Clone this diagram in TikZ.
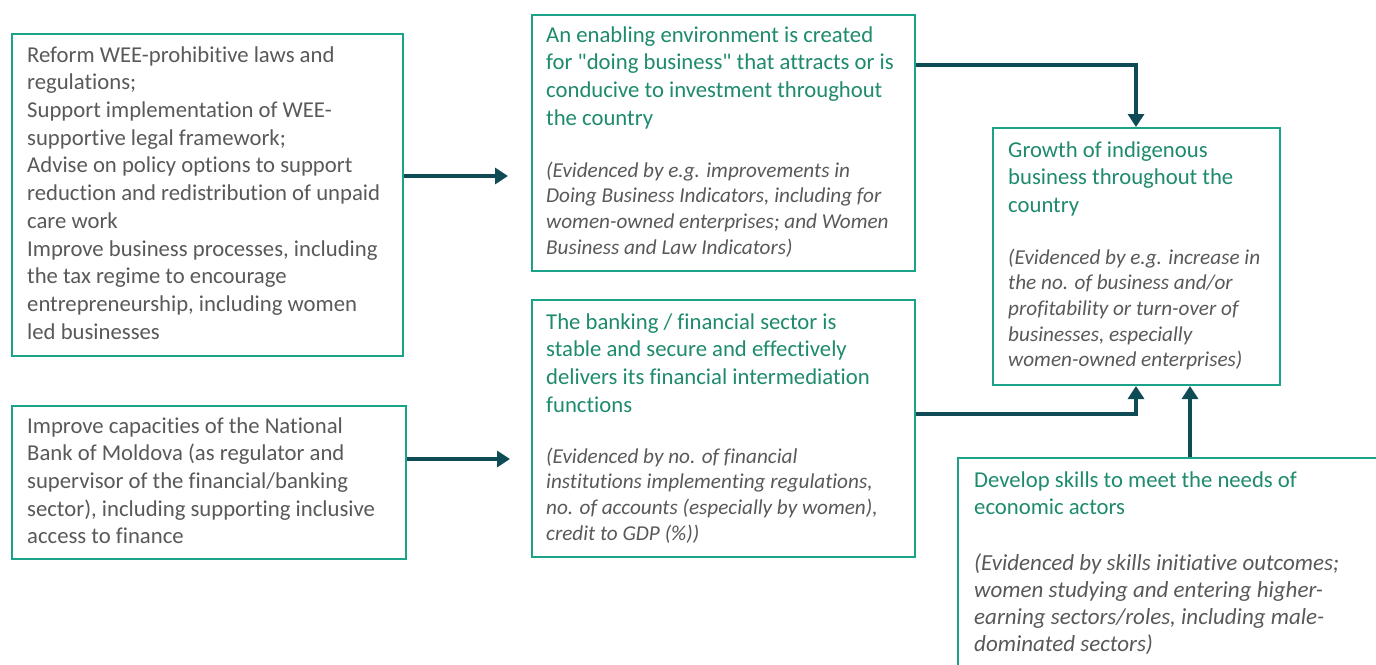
\documentclass[tikz,border=0pt]{standalone}
\usepackage{fontspec}
\setmainfont{Carlito}[Ligatures=NoCommon]
\usetikzlibrary{arrows.meta}
\definecolor{boxline}{HTML}{1BA38A}
\definecolor{arrowc}{HTML}{0F4B55}
\definecolor{titlec}{HTML}{1E8A6E}
\definecolor{bodyc}{HTML}{595959}
\tikzset{
  box/.style={draw=boxline, line width=2pt, inner sep=0pt, fill=white, anchor=north west},
  txt/.style={anchor=north west, inner sep=0pt, align=left, text=bodyc, font=\fontsize{22.7}{27.7}\selectfont},
  ttl/.style={txt, text=titlec},
  evid/.style={txt, font=\fontsize{21.2}{25.7}\selectfont\itshape},
  flow/.style={draw=arrowc, line width=4pt, -{Triangle[length=13pt,width=16pt]}},
}
\begin{document}
\begin{tikzpicture}[x=1pt,y=-1pt]
\useasboundingbox (0,0) rectangle (1376,664);
\clip (0,0) rectangle (1376,664);
\fill[white] (0,0) rectangle (1376,664);

% boxes
\node[box, minimum width=391pt, minimum height=322pt] (l1) at (11,33) {};
\node[box, minimum width=394pt, minimum height=153pt] (l2) at (11,405) {};
\node[box, minimum width=383pt, minimum height=256pt] (m1) at (531,14) {};
\node[box, minimum width=383pt, minimum height=257pt] (m2) at (531,299) {};
\node[box, minimum width=287pt, minimum height=257pt] (r) at (992,127) {};
\node[box, minimum width=440pt, minimum height=240pt] (sk) at (957,457) {};

% texts
\node[txt] (l1t) at (27,42.6) {\strut Reform WEE-prohibitive laws and\\regulations;\\Support implementation of WEE-\\supportive legal framework;\\Advise on policy options to support\\reduction and redistribution of unpaid\\care work\\Improve business processes, including\\the tax regime to encourage\\entrepreneurship, including women\\led businesses};
\node[txt] (l2t) at (27,413.6) {\strut Improve capacities of the National\\Bank of Moldova (as regulator and\\supervisor of the financial/banking\\sector), including supporting inclusive\\access to finance};

\node[ttl] (m1t) at (546,22.6) {\strut An enabling environment is created\\for \textquotedbl doing business\textquotedbl{} that attracts or is\\conducive to investment throughout\\the country};
\node[evid] (m1e) at (546,159) {\strut (Evidenced by e.g. improvements in\\Doing Business Indicators, including for\\women-owned enterprises; and Women\\Business and Law Indicators)};

\node[ttl] (m2t) at (546,309.6) {\strut The banking / financial sector is\\stable and secure and effectively\\delivers its financial intermediation\\functions};
\node[evid] (m2e) at (546,445) {\strut (Evidenced by no. of financial\\institutions implementing regulations,\\no. of accounts (especially by women),\\credit to GDP (\%))};

\node[ttl] (rt) at (1008,137.6) {\strut Growth of indigenous\\business throughout the\\country};
\node[evid] (re) at (1008,246) {\strut (Evidenced by e.g. increase in\\the no. of business and/or\\profitability or turn-over of\\businesses, especially\\women-owned enterprises)};

\node[ttl] (skt) at (974,467.6) {\strut Develop skills to meet the needs of\\economic actors};
\node[evid, font=\fontsize{23}{27.2}\selectfont\itshape] (ske) at (974,551) {\strut (Evidenced by skills initiative outcomes;\\women studying and entering higher-\\earning sectors/roles, including male-\\dominated sectors)};

% connectors
\coordinate (a1) at (508,176);
\coordinate (a2) at (510,459);
\coordinate (j1) at (1136,65);
\coordinate (j2) at (1136,414);
\coordinate (j3) at (1190,0);
\draw[flow] (l1.east |- a1) -- (a1);
\draw[flow] (l2.east |- a2) -- (a2);
\draw[flow] (m1.east |- j1) -- (j1) -- (j1 |- r.north);
\draw[flow] (m2.east |- j2) -- (j2) -- (j2 |- r.south);
\draw[flow] (sk.north -| j3) -- (j3 |- r.south);
\end{tikzpicture}
\end{document}
